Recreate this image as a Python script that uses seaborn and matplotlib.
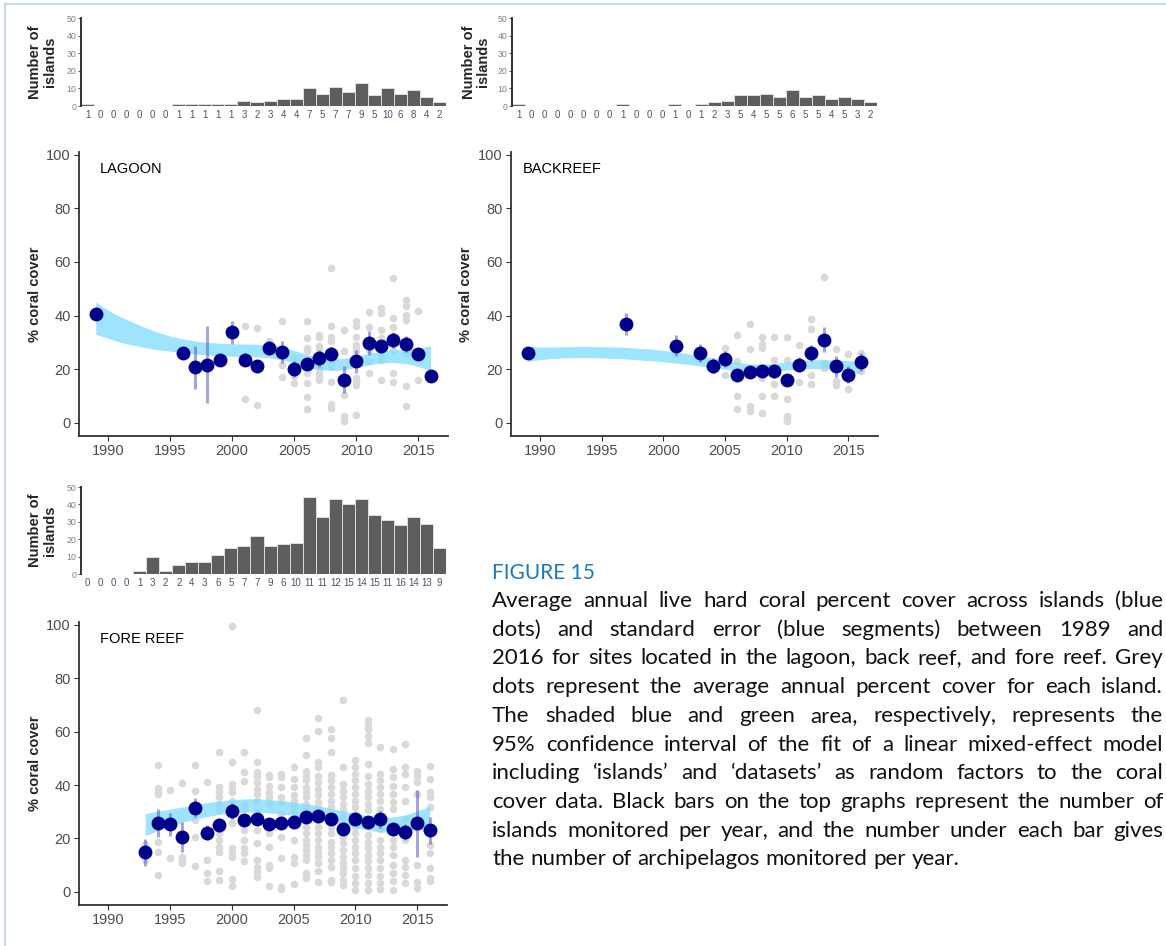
import matplotlib
matplotlib.use('Agg')
import numpy as np
import pandas as pd
import matplotlib.pyplot as plt
from matplotlib.lines import Line2D
import seaborn as sns

# ---- data ----
years = list(range(1989, 2017))

# bar heights = islands monitored, labels under bars = archipelagos monitored
lagoon_islands = [1, 0, 0, 0, 0, 0, 0, 1, 1, 1, 1, 1, 3, 2, 3, 4, 4, 10, 7, 11, 8, 13, 6, 10, 7, 9, 5, 2]
lagoon_archip = [1, 0, 0, 0, 0, 0, 0, 1, 1, 1, 1, 1, 3, 2, 3, 4, 4, 7, 5, 7, 7, 9, 5, 10, 6, 8, 4, 2]
backreef_islands = [1, 0, 0, 0, 0, 0, 0, 0, 1, 0, 0, 0, 1, 0, 1, 2, 3, 6, 6, 7, 5, 9, 5, 6, 4, 5, 4, 2]
backreef_archip = [1, 0, 0, 0, 0, 0, 0, 0, 1, 0, 0, 0, 1, 0, 1, 2, 3, 5, 4, 5, 5, 6, 5, 5, 4, 5, 3, 2]
fore_islands = [0, 0, 0, 0, 2, 10, 2, 5, 7, 7, 11, 15, 16, 22, 16, 17, 18, 44, 33, 43, 40, 43, 34, 31, 28, 33, 29, 15]
fore_archip = [0, 0, 0, 0, 1, 3, 2, 2, 4, 3, 6, 5, 7, 7, 9, 6, 10, 11, 11, 12, 15, 14, 15, 11, 16, 14, 13, 9]

# mean cover across islands (blue dots) and standard error (blue segments)
lagoon_year = [1989, 1996, 1997, 1998, 1999, 2000, 2001, 2002, 2003, 2004, 2005,
               2006, 2007, 2008, 2009, 2010, 2011, 2012, 2013, 2014, 2015, 2016]
lagoon_mean = [40.5, 26.0, 20.8, 21.7, 23.3, 33.8, 23.6, 21.1, 27.9, 26.5, 20.2,
               22.1, 24.0, 25.7, 16.1, 22.9, 29.8, 28.5, 31.0, 29.3, 25.5, 17.4]
lagoon_se = [0, 1.5, 8, 14.3, 1.5, 4.3, 2.5, 2, 2.5, 4.2, 3,
             2, 3, 2.5, 5, 4.3, 4.5, 2.5, 3, 3, 2, 0]

backreef_year = [1989, 1997, 2001, 2003, 2004, 2005, 2006, 2007, 2008,
                 2009, 2010, 2011, 2012, 2013, 2014, 2015, 2016]
backreef_mean = [25.9, 36.9, 28.8, 26.0, 21.3, 23.9, 17.7, 18.8, 19.2,
                 19.2, 16.1, 21.7, 26.0, 31.0, 21.1, 18.0, 22.7]
backreef_se = [0, 4, 3.8, 3.3, 2.8, 3, 1.5, 1.5, 1.5,
               2.5, 1.5, 2.7, 3, 4.7, 4, 3.3, 3.3]

fore_year = list(range(1993, 2017))
fore_mean = [14.8, 25.8, 25.3, 20.6, 31.5, 22.1, 25.0, 30.2, 26.8, 27.1, 25.3, 25.6,
             26.0, 28.1, 28.3, 27.2, 23.7, 27.3, 26.2, 27.1, 23.4, 22.5, 25.6, 23.1]
fore_se = [5, 5.2, 4.2, 5.5, 3.5, 2.8, 2.5, 3, 2, 1.5, 1.5, 1.5,
           1.5, 1.5, 1.5, 1.5, 2.5, 1.5, 1.5, 3, 2, 3, 12.4, 5]

# 95% CI of the mixed model fit (ribbon)
lagoon_ci_lo = [33.0, 31.5, 30.0, 29.0, 28.0, 27.3, 26.7, 26.2, 25.7, 25.3, 25.0, 24.8, 24.7, 24.6,
                24.3, 23.5, 22.3, 20.8, 19.8, 19.5, 19.8, 20.6, 21.6, 22.3, 22.5, 22.1, 21.0, 19.5]
lagoon_ci_hi = [45.0, 42.0, 39.5, 37.5, 35.5, 33.8, 32.4, 31.3, 30.5, 30.0, 29.7, 29.5, 29.4, 29.3,
                29.0, 28.2, 27.0, 25.5, 24.3, 23.8, 24.0, 24.8, 25.9, 26.7, 27.2, 27.5, 28.0, 28.7]
backreef_ci_lo = [23.0, 23.6, 24.0, 24.2, 24.3, 24.3, 24.2, 24.0, 23.8, 23.5, 23.2, 22.8, 22.3, 21.8,
                  21.2, 20.6, 20.0, 19.3, 18.9, 18.9, 19.2, 19.7, 20.1, 20.3, 20.2, 19.8, 19.1, 18.3]
backreef_ci_hi = [28.5, 28.3, 28.3, 28.4, 28.5, 28.5, 28.4, 28.3, 28.1, 27.8, 27.5, 27.0, 26.4, 25.8,
                  25.0, 24.2, 23.4, 22.6, 22.0, 21.9, 22.2, 22.7, 23.2, 23.5, 23.6, 23.4, 23.2, 23.0]
fore_ci_lo = [21.0, 23.0, 24.6, 26.0, 27.2, 28.2, 29.0, 29.6, 29.9, 29.9, 29.6, 29.1,
              28.6, 28.0, 27.2, 26.3, 25.2, 24.1, 23.1, 22.4, 22.3, 22.7, 23.2, 23.5]
fore_ci_hi = [29.3, 30.2, 31.0, 31.8, 32.6, 33.4, 34.0, 34.5, 34.8, 34.9, 34.6, 34.1,
              33.6, 33.0, 32.2, 31.3, 30.3, 29.3, 28.5, 28.0, 28.0, 28.8, 30.3, 32.0]

# average cover of each island (grey dots)
lagoon_isl = {
    2001: [36.2, 8.9, 23.0], 2002: [35.3, 6.8, 21.5], 2003: [30.4, 27.0],
    2004: [37.8, 21.7, 17.1], 2005: [24.2, 14.9, 17.4],
    2006: [37.8, 31.6, 27.9, 26.7, 21.7, 18.6, 14.9, 9.7, 5.2],
    2007: [32.8, 32.0, 28.5, 27.3, 20.5, 18.6, 17.1, 15.9],
    2008: [57.6, 36.2, 32.0, 30.4, 27.3, 22.9, 21.1, 15.1, 7.2, 5.6],
    2009: [34.7, 26.7, 10.5, 2.5, 1.2, 0.6],
    2010: [37.8, 36.2, 32.2, 29.1, 27.9, 26.7, 16.7, 15.5, 14.3, 3.1],
    2011: [41.5, 35.7, 27.3, 22.9, 18.6],
    2012: [42.8, 40.9, 34.7, 31.6, 25.4, 23.6, 15.9],
    2013: [53.9, 39.0, 35.7, 27.3, 18.6, 15.1],
    2014: [45.9, 43.4, 40.3, 38.2, 26.0, 13.6, 6.4],
    2015: [41.8, 15.9],
}
backreef_isl = {
    2004: [19.6], 2005: [27.9, 18.0],
    2006: [32.8, 22.9, 9.9, 5.0], 2007: [36.9, 27.6, 6.2, 4.3],
    2008: [32.2, 29.5, 27.9, 16.7, 9.9, 3.5], 2009: [32.0, 23.6, 14.5, 9.9],
    2010: [32.0, 23.6, 8.9, 2.7, 1.9, 0.6], 2011: [29.1, 15.1],
    2012: [38.7, 35.0, 18.0, 14.6], 2013: [54.3, 22.3, 20.5],
    2014: [27.5, 15.5, 14.3], 2015: [25.8, 12.6], 2016: [26.0, 19.2],
}
fore_isl = {
    1993: [12.0, 18.0],
    1994: [47.5, 38.8, 37.3, 36.7, 18.8, 15.1, 6.4],
    1995: [38.0, 12.6],
    1996: [40.7, 13.2, 12.0, 11.0],
    1997: [47.5, 37.7, 26.8, 20.6, 9.8],
    1998: [41.0, 12.0, 7.0, 4.0],
    1999: [52.2, 39.2, 37.3, 35.5, 33.0, 30.5, 21.9, 19.4, 16.9, 15.1, 8.0, 4.3],
    2000: [99.5, 48.7, 40.2, 39.2, 37.3, 34.2, 31.8, 25.6, 16.3, 15.1, 13.0, 4.8, 2.1],
    2001: [52.5, 44.7, 41.4, 33.0, 31.1, 23.1, 19.4, 16.3, 14.5, 11.4],
    2002: [67.9, 48.7, 45.0, 43.5, 41.0, 38.6, 36.7, 34.2, 29.9, 23.1, 18.4, 12.0, 9.5, 7.3, 5.6],
    2003: [43.9, 42.9, 39.8, 37.3, 35.5, 32.8, 21.9, 16.9, 10.1, 8.9, 2.3],
    2004: [44.1, 43.1, 39.2, 35.5, 33.6, 29.3, 20.6, 12.6, 1.9, 1.1],
    2005: [46.6, 42.3, 39.2, 36.1, 34.2, 31.8, 29.9, 19.4, 13.2, 10.8, 3.1],
    2006: [57.5, 51.3, 45.4, 43.5, 41.7, 39.4, 37.3, 35.5, 33.0, 31.1, 24.4, 21.9,
           19.4, 17.6, 15.7, 13.8, 12.0, 7.0, 5.2],
    2007: [64.9, 60.2, 48.5, 46.6, 43.5, 41.0, 38.6, 36.1, 33.6, 31.8, 26.8, 24.4,
           21.9, 19.4, 16.9, 15.1, 13.2, 10.8, 7.9, 3.7],
    2008: [60.8, 57.5, 52.5, 43.9, 41.7, 39.2, 36.7, 34.2, 31.8, 24.4, 21.9, 18.8,
           16.9, 14.5, 12.0, 9.5, 4.6, 3.6],
    2009: [71.9, 46.8, 40.4, 37.9, 35.5, 33.0, 30.5, 28.1, 20.6, 18.2, 15.7, 13.2,
           10.8, 8.9, 7.0, 4.6, 2.7],
    2010: [49.4, 46.6, 44.1, 41.7, 39.2, 36.7, 34.2, 31.8, 29.3, 24.4, 21.9, 19.4,
           16.9, 14.5, 12.0, 8.9, 5.8, 3.3, 0.9],
    2011: [64.5, 62.7, 60.8, 58.3, 55.9, 47.8, 43.5, 40.4, 37.9, 35.5, 33.0, 30.5,
           21.3, 18.8, 16.3, 13.8, 11.4, 8.9, 6.4, 3.3, 0.9],
    2012: [54.3, 44.1, 41.7, 39.2, 36.7, 34.2, 31.1, 23.7, 19.4, 16.9, 14.5, 12.0,
           8.9, 5.8, 3.3, 1.1],
    2013: [53.4, 46.0, 42.9, 39.8, 36.7, 33.6, 31.1, 19.4, 16.9, 13.8, 10.1, 7.0, 4.0, 0.9],
    2014: [55.5, 46.6, 44.1, 39.2, 34.2, 27.4, 19.4, 12.0, 9.5, 6.4, 3.3],
    2015: [45.4, 43.5, 41.0, 36.7, 10.1, 3.6, 1.5],
    2016: [47.2, 42.3, 37.3, 35.5, 31.8, 17.6, 14.5, 8.9, 5.2, 4.0],
}

caption_lines = [
    "Average annual live hard coral percent cover across islands (blue",
    "dots) and standard error (blue segments) between 1989 and",
    "2016 for sites located in the lagoon, back reef, and fore reef. Grey",
    "dots represent the average annual percent cover for each island.",
    "The shaded blue and green area, respectively, represents the",
    "95% confidence interval of the fit of a linear mixed-effect model",
    "including \u2018islands\u2019 and \u2018datasets\u2019 as random factors to the coral",
    "cover data. Black bars on the top graphs represent the number of",
    "islands monitored per year, and the number under each bar gives",
    "the number of archipelagos monitored per year.",
]

# ---- style ----
sns.set_style('ticks')
plt.rcParams['font.family'] = ['Liberation Sans', 'DejaVu Sans']

W, H = 1166, 946
fig = plt.figure(figsize=(W / 100, H / 100), dpi=100)


def box(l, t, r, b):
    # pixel box -> figure fraction
    return [l / W, 1 - b / H, (r - l) / W, (b - t) / H]


def draw_hist(rect, counts, archip, lab_x):
    ax = fig.add_axes(box(*rect))
    df = pd.DataFrame({'year': [str(y) for y in years], 'n': counts})
    sns.barplot(data=df, x='year', y='n', color='#5e5e5e', saturation=1, width=1.0,
                edgecolor='#dedede', linewidth=0.7, ax=ax)
    ax.set_xlim(-0.5, 27.5)
    ax.set_ylim(0, 50)
    ax.set_yticks(range(0, 51, 10))
    ax.set_xticks(range(len(years)))
    ax.set_xticklabels(archip)
    ax.tick_params(axis='x', length=0, pad=3, labelsize=7, labelcolor='#50506a')
    ax.tick_params(axis='y', length=2, width=0.6, pad=1.5, labelsize=6.3,
                   labelcolor='#808080', color='#333333')
    sns.despine(ax=ax, bottom=True)
    ax.spines['left'].set_linewidth(1.3)
    ax.spines['left'].set_color('#222222')
    ax.set_xlabel('')
    ax.set_ylabel('Number of\nislands', fontsize=10.5, fontweight='bold', linespacing=1.05)
    ax.yaxis.set_label_coords(lab_x, 0.5)
    return ax


def draw_panel(rect, title, title_x, isl, yr, mean, se, ci_years, lo, hi, lab_x):
    ax = fig.add_axes(box(*rect))
    grey = pd.DataFrame([(y, v) for y, vals in isl.items() for v in vals],
                        columns=['year', 'cover'])
    sns.scatterplot(data=grey, x='year', y='cover', color='#d9d9d9', s=30,
                    linewidth=0, ax=ax, zorder=1)
    ax.fill_between(ci_years, lo, hi, color='#7fdcff', alpha=0.75, linewidth=0, zorder=2)
    mean = np.array(mean)
    se = np.array(se)
    ax.vlines(yr, mean - se, mean + se, color='#5c5cb8', alpha=0.55, lw=2.2, zorder=3)
    sns.scatterplot(x=yr, y=mean, color='#00008b', s=100, linewidth=0, ax=ax, zorder=4)
    ax.set_xlim(1987.65, 2017.4)
    ax.set_ylim(-4.9, 101)
    ax.set_xticks(range(1990, 2016, 5))
    ax.set_yticks(range(0, 101, 20))
    ax.tick_params(length=3.5, width=0.8, color='#333333', labelsize=10.5,
                   labelcolor='#4d4d4d', pad=2.5)
    sns.despine(ax=ax)
    for s in ['left', 'bottom']:
        ax.spines[s].set_linewidth(1.3)
        ax.spines[s].set_color('#333333')
    ax.set_xlabel('')
    ax.set_ylabel('% coral cover', fontsize=10.5, fontweight='bold')
    ax.yaxis.set_label_coords(lab_x, 0.5)
    ax.text(title_x, 0.94, title, transform=ax.transAxes, fontsize=10.5,
            ha='left', va='center', color='black')
    return ax


draw_hist((81, 18, 446, 106), lagoon_islands, lagoon_archip, -0.066)
draw_hist((512, 18, 877, 106), backreef_islands, backreef_archip, -0.06)
draw_hist((81, 487, 446, 574), fore_islands, fore_archip, -0.066)

draw_panel((79, 152, 448, 436), 'LAGOON', 0.057, lagoon_isl, lagoon_year, lagoon_mean,
           lagoon_se, years, lagoon_ci_lo, lagoon_ci_hi, -0.1)
draw_panel((511, 152, 878, 436), 'BACKREEF', 0.033, backreef_isl, backreef_year, backreef_mean,
           backreef_se, years, backreef_ci_lo, backreef_ci_hi, -0.103)
draw_panel((79, 622, 447, 905), 'FORE REEF', 0.057, fore_isl, fore_year, fore_mean,
           fore_se, fore_year, fore_ci_lo, fore_ci_hi, -0.1)

# page frame lines
fig.add_artist(Line2D([5 / W, 1], [1 - 4 / H, 1 - 4 / H], transform=fig.transFigure,
                      color='#c8dbee', lw=1.5))
fig.add_artist(Line2D([5 / W, 5 / W], [0, 1 - 4 / H], transform=fig.transFigure,
                      color='#c8dbee', lw=1.5))

# caption
fig.text(492 / W, 1 - 579 / H, 'FIGURE 15', family=['Lato', 'DejaVu Sans'], fontsize=15,
         color='#1f77b8', ha='left', va='baseline')

cap_font = ['Lato', 'DejaVu Sans']
x0, x1 = 492, 1163
fig.canvas.draw()
rend = fig.canvas.get_renderer()


def text_w(s, size):
    t = fig.text(0, 0, s, family=cap_font, fontsize=size)
    w = t.get_window_extent(renderer=rend).width
    t.remove()
    return w


# size the caption so the last (unjustified) line is as long as in the reference,
# but never so big that a full line would overflow the column
cap_size = 14 * 468 / text_w(caption_lines[-1], 14)
while max(text_w(l, cap_size) for l in caption_lines) > (x1 - x0) - 4:
    cap_size -= 0.1

space_w = text_w('n n', cap_size) - 2 * text_w('n', cap_size)
for i, line in enumerate(caption_lines):
    base = 607 + 28.7 * i
    words = line.split(' ')
    widths = [text_w(w, cap_size) for w in words]
    if i < len(caption_lines) - 1:
        gap = (x1 - x0 - sum(widths)) / (len(words) - 1)
    else:
        gap = space_w
    x = x0
    for w, ww in zip(words, widths):
        fig.text(x / W, 1 - base / H, w, family=cap_font, fontsize=cap_size,
                 ha='left', va='baseline', color='#111111')
        x += ww + gap

fig.savefig('out.png', dpi=100)
